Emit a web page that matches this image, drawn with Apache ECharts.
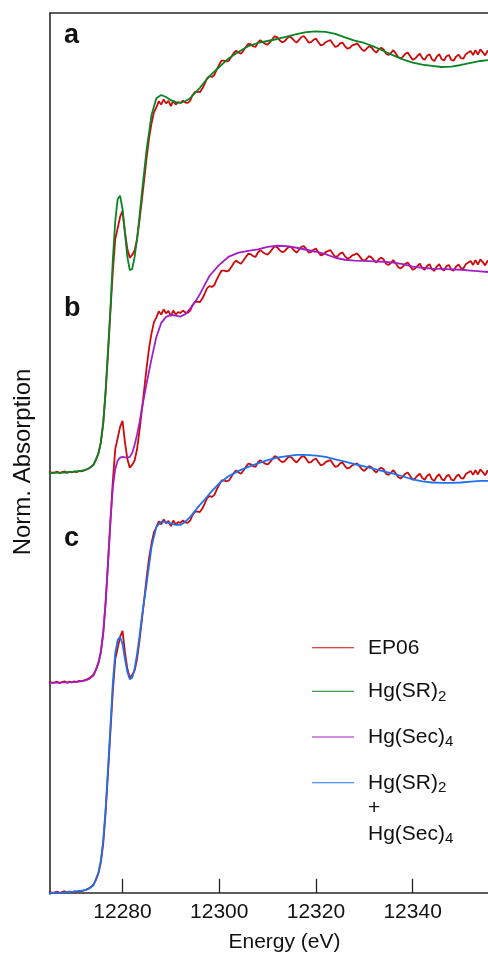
<!DOCTYPE html>
<html>
<head>
<meta charset="utf-8">
<script src="https://cdn.jsdelivr.net/npm/echarts@6/dist/echarts.min.js"></script>
<style>
  html, body { margin: 0; padding: 0; background: #ffffff; }
  #chart { width: 488px; height: 953px; }
</style>
</head>
<body>
<div id="chart"></div>
<script>
// ---------- data (normalized absorption) ----------
const energyRef = [
  12262, 12265, 12268, 12270, 12272, 12273, 12274, 12275, 12275.5, 12276,
  12276.5, 12277, 12277.5, 12278, 12278.5, 12279, 12279.5, 12280, 12280.5, 12281,
  12281.5, 12282, 12282.5, 12283, 12283.5, 12284, 12285, 12286, 12287, 12288,
  12289, 12290, 12291, 12292, 12293, 12294, 12295, 12296, 12297, 12298,
  12300, 12302, 12304, 12306, 12308, 12310, 12312, 12314, 12316, 12318,
  12320, 12322, 12324, 12326, 12328, 12330, 12332, 12334, 12336, 12338,
  12340, 12342, 12344, 12346, 12348, 12350, 12352, 12354, 12356, 12358,
  12360
];
const hgSR2 = [
  0.000, 0.000, 0.001, 0.003, 0.006, 0.011, 0.020, 0.048, 0.075, 0.125,
  0.205, 0.305, 0.410, 0.535, 0.630, 0.685, 0.693, 0.660, 0.600, 0.540,
  0.507, 0.510, 0.540, 0.585, 0.640, 0.700, 0.810, 0.895, 0.937, 0.945,
  0.940, 0.932, 0.927, 0.925, 0.930, 0.937, 0.950, 0.963, 0.978, 0.992,
  1.015, 1.037, 1.053, 1.067, 1.075, 1.080, 1.085, 1.091, 1.097, 1.102,
  1.104, 1.103, 1.098, 1.089, 1.081, 1.075, 1.066, 1.055, 1.044, 1.034,
  1.026, 1.021, 1.018, 1.015, 1.016, 1.020, 1.025, 1.030, 1.033, 1.035,
  1.036
];
const hgSec4 = [
  0.000, 0.000, 0.001, 0.002, 0.005, 0.009, 0.018, 0.050, 0.078, 0.125,
  0.200, 0.300, 0.405, 0.490, 0.535, 0.556, 0.563, 0.565, 0.564, 0.563,
  0.565, 0.575, 0.595, 0.620, 0.650, 0.685, 0.750, 0.810, 0.865, 0.900,
  0.915, 0.920, 0.918, 0.916, 0.922, 0.936, 0.952, 0.972, 0.995, 1.018,
  1.045, 1.066, 1.076, 1.080, 1.084, 1.090, 1.093, 1.092, 1.088, 1.083,
  1.078, 1.072, 1.063, 1.058, 1.056, 1.055, 1.054, 1.053, 1.051, 1.047,
  1.041, 1.038, 1.036, 1.035, 1.034, 1.033, 1.031, 1.029, 1.027, 1.026,
  1.025
];
const fitSR2Sec4 = [
  0.000, 0.000, 0.001, 0.003, 0.006, 0.010, 0.019, 0.050, 0.080, 0.130,
  0.210, 0.310, 0.415, 0.525, 0.600, 0.632, 0.640, 0.622, 0.585, 0.552,
  0.534, 0.538, 0.560, 0.597, 0.640, 0.690, 0.775, 0.865, 0.915, 0.928,
  0.927, 0.923, 0.920, 0.920, 0.928, 0.940, 0.955, 0.970, 0.983, 0.998,
  1.024, 1.042, 1.055, 1.065, 1.074, 1.082, 1.088, 1.092, 1.095, 1.095,
  1.093, 1.090, 1.084, 1.078, 1.072, 1.066, 1.060, 1.054, 1.048, 1.041,
  1.034, 1.029, 1.026, 1.025, 1.025, 1.026, 1.028, 1.030, 1.030, 1.031,
  1.031
];
// EP06 sample, sampled every 0.5 eV starting at 12262 eV
const ep06Start = 12262;
const ep06Step = 0.5;
const ep06 = [
  0.001, -0.001, 0.002, 0.000, 0.001, -0.002, 0.002, 0.000, 0.001, 0.003,
  -0.001, 0.002, 0.004, 0.000, 0.003, 0.001, 0.004, 0.002, 0.005, 0.004,
  0.006, 0.008, 0.011, 0.015, 0.021, 0.032, 0.048, 0.075, 0.122, 0.200,
  0.300, 0.405, 0.505, 0.585, 0.612, 0.640, 0.655, 0.602, 0.560, 0.538,
  0.545, 0.556, 0.584, 0.630, 0.682, 0.735, 0.790, 0.838, 0.874, 0.902,
  0.914, 0.929, 0.921, 0.934, 0.924, 0.930, 0.917, 0.931, 0.921, 0.927,
  0.925, 0.931, 0.926, 0.925, 0.931, 0.945, 0.953, 0.953, 0.952, 0.961,
  0.973, 0.987, 0.992, 0.990, 0.995, 1.009, 1.021, 1.031, 1.031, 1.029,
  1.031, 1.040, 1.050, 1.056, 1.051, 1.048, 1.056, 1.065, 1.073, 1.072,
  1.067, 1.065, 1.076, 1.082, 1.077, 1.073, 1.071, 1.077, 1.085, 1.092,
  1.089, 1.082, 1.077, 1.079, 1.086, 1.091, 1.088, 1.081, 1.076, 1.083,
  1.090, 1.092, 1.085, 1.076, 1.077, 1.083, 1.086, 1.077, 1.069, 1.071,
  1.077, 1.080, 1.082, 1.073, 1.065, 1.067, 1.074, 1.076, 1.067, 1.061,
  1.063, 1.069, 1.071, 1.074, 1.067, 1.059, 1.055, 1.061, 1.067, 1.064,
  1.056, 1.051, 1.059, 1.063, 1.059, 1.048, 1.045, 1.050, 1.057, 1.049,
  1.040, 1.036, 1.041, 1.048, 1.051, 1.042, 1.033, 1.036, 1.043, 1.048,
  1.037, 1.033, 1.043, 1.047, 1.034, 1.030, 1.041, 1.047, 1.035, 1.031,
  1.042, 1.045, 1.033, 1.031, 1.041, 1.046, 1.037, 1.036, 1.047, 1.051,
  1.055, 1.045, 1.057, 1.046, 1.059, 1.052, 1.044, 1.056, 1.046, 1.053,
  1.047, 1.055, 1.044, 1.052, 1.049, 1.043, 1.051
];
// vertical stacking offsets of panels a, b, c
const panelOffsets = [1.05, 0.525, 0];
const panelLabels = ['a', 'b', 'c'];
const xTicks = [12280, 12300, 12320, 12340];
const seriesNames = ['EP06', 'Hg(SR)2', 'Hg(Sec)4', 'Hg(SR)2 + Hg(Sec)4'];

// ---------- build ----------
const FONT = '"Liberation Sans", Arial, sans-serif';
const colors = {
  'EP06': '#cc0a0a',
  'Hg(SR)2': '#0a8424',
  'Hg(Sec)4': '#a21fc6',
  'Hg(SR)2 + Hg(Sec)4': '#1f72ee'
};
function refPairs(vals, off) {
  return energyRef.map((e, i) => [e, vals[i] + off]);
}
function epPairs(off) {
  return ep06.map((v, i) => [ep06Start + i * ep06Step, v + off]);
}
function lineSeries(name, data) {
  return {
    type: 'line', name: name, data: data,
    showSymbol: false, symbol: 'none', animation: false,
    color: colors[name],
    lineStyle: { width: 1.8, color: colors[name] },
    emphasis: { disabled: true }
  };
}
const refs = [hgSR2, hgSec4, fitSR2Sec4];
const series = [];
panelOffsets.forEach((off, k) => {
  series.push(lineSeries(seriesNames[0], epPairs(off)));
  series.push(lineSeries(seriesNames[k + 1], refPairs(refs[k], off)));
});

const legendText = {
  'EP06': '{n|EP06}',
  'Hg(SR)2': '{n|Hg(SR)}{s|2}',
  'Hg(Sec)4': '{n|Hg(Sec)}{s|4}',
  'Hg(SR)2 + Hg(Sec)4': '{n|Hg(SR)}{s|2}\n{n|+}\n{n|Hg(Sec)}{s|4}'
};
const rich = {
  n: { fontSize: 21, lineHeight: 25.5, fontFamily: FONT, color: '#111' },
  s: { fontSize: 15, lineHeight: 10, verticalAlign: 'bottom', fontFamily: FONT, color: '#111' }
};
const legendBase = {
  orient: 'vertical', left: 312, padding: 0,
  icon: 'rect', itemWidth: 42, itemHeight: 1.2, itemGap: 22.5,
  selectedMode: false,
  formatter: name => legendText[name]
};

const chart = echarts.init(document.getElementById('chart'), null, { renderer: 'canvas' });
chart.setOption({
  backgroundColor: '#ffffff',
  animation: false,
  grid: { left: 50, top: 13, width: 469, bottom: 59, outerBoundsMode: 'none', containLabel: false },
  legend: [
    Object.assign({}, legendBase, {
      top: 637.25, data: seriesNames.slice(0, 3),
      textStyle: { padding: [0, 0, 0, 9], rich: rich }
    }),
    Object.assign({}, legendBase, {
      top: 772.25, data: seriesNames.slice(3),
      textStyle: { padding: [51, 0, 0, 9], rich: rich }
    })
  ],
  xAxis: [{
    type: 'value', min: 12265, max: 12362,
    name: 'Energy (eV)', nameLocation: 'middle', nameGap: 38,
    nameTextStyle: { fontSize: 21, fontFamily: FONT, color: '#111' },
    axisLine: { show: true, lineStyle: { color: '#2a2a2a', width: 1.6 } },
    axisTick: { show: true, inside: true, length: 14, customValues: xTicks,
                lineStyle: { color: '#222', width: 1.3 } },
    axisLabel: { show: true, customValues: xTicks, margin: 8,
                 formatter: v => String(v),
                 fontSize: 21, fontFamily: FONT, color: '#111' },
    splitLine: { show: false }
  }, {
    type: 'value', position: 'top', min: 12265, max: 12362,
    axisLine: { show: true, onZero: false, lineStyle: { color: '#2a2a2a', width: 1.6 } },
    axisTick: { show: false }, axisLabel: { show: false }, splitLine: { show: false }
  }],
  yAxis: {
    type: 'value', min: -0.003, max: 2.2,
    name: 'Norm. Absorption', nameLocation: 'middle', nameGap: 15,
    nameTextStyle: { fontSize: 24, fontFamily: FONT, color: '#111', padding: [0, 17, 0, 0] },
    axisLine: { show: true, onZero: false, lineStyle: { color: '#2a2a2a', width: 1.6 } },
    axisTick: { show: false }, axisLabel: { show: false }, splitLine: { show: false }
  },
  graphic: panelLabels.map((t, k) => ({
    type: 'text', left: 64, top: [22, 295, 525][k],
    style: { text: t, font: 'bold 27px ' + FONT, fill: '#111' }
  })),
  series: series
});
</script>
</body>
</html>
